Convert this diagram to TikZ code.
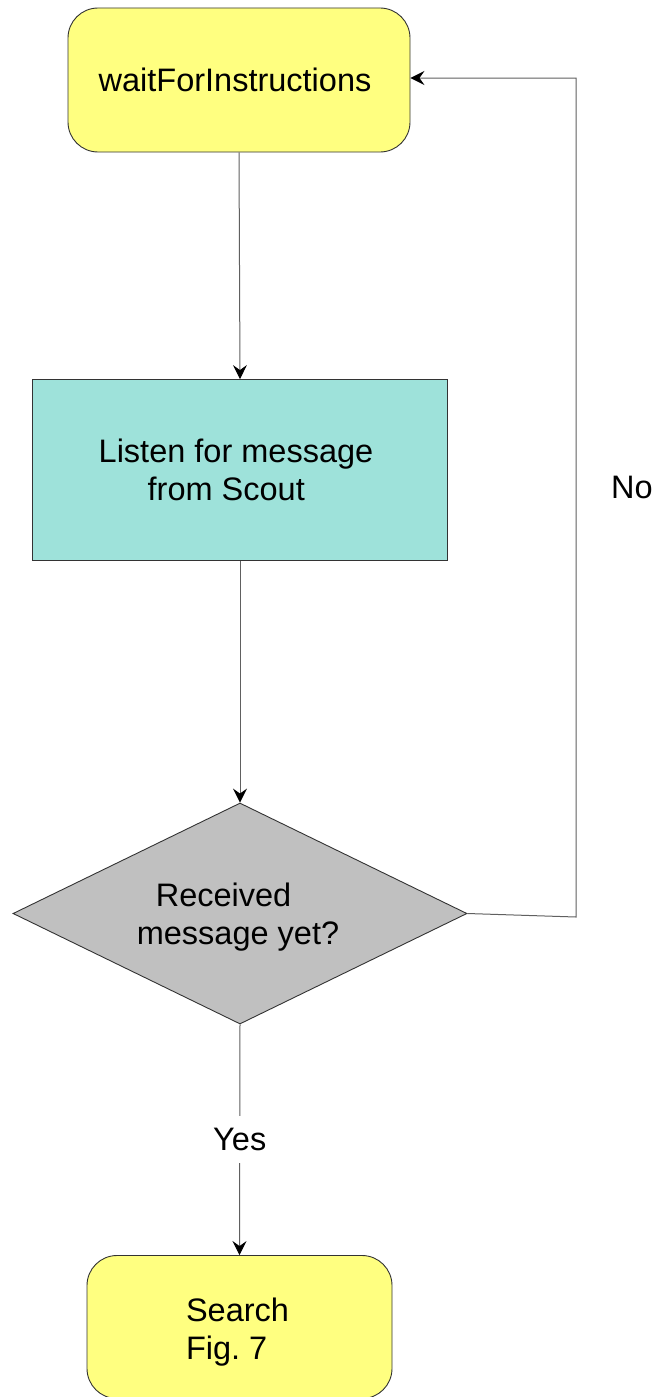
\documentclass[tikz,border=0pt]{standalone}
\usepackage{fontspec}
\setmainfont{Liberation Sans}
\usetikzlibrary{shapes.geometric,arrows.meta}

\definecolor{termfill}{HTML}{FFFF80}
\definecolor{procfill}{HTML}{9EE2DA}
\definecolor{decfill}{HTML}{C0C0C0}
\definecolor{edgeline}{HTML}{333333}
\definecolor{linkline}{HTML}{606060}

\tikzset{
  lbl/.style={font=\fontsize{32.5}{38}\selectfont},
  terminal/.style={lbl, draw=edgeline, line width=0.9pt, fill=termfill,
    rounded corners=30pt, inner sep=0pt},
  process/.style={lbl, draw=edgeline, line width=0.9pt, fill=procfill,
    inner sep=0pt},
  decision/.style={lbl, diamond, aspect=2.05, draw=edgeline, line width=0.9pt,
    fill=decfill, inner sep=0pt},
  link/.style={draw=linkline, line width=1pt},
  flow/.style={link, -{Stealth[length=14pt,width=14pt,inset=5pt,color=black]}},
  boxtext/.style={lbl, align=left},
}

\begin{document}
\begin{tikzpicture}[x=1pt,y=-1pt]
  \useasboundingbox (0,0) rectangle (657,1397);

  % states and steps
  \node[terminal, minimum width=342pt, minimum height=144pt,
    label={[boxtext, xshift=-4pt]center:waitForInstructions}] (wait) at (239,80) {};
  \node[process, minimum width=415pt, minimum height=181pt,
    label={[boxtext, xshift=-4pt]center:{Listen for message\\\hspace*{49pt}from Scout}}]
    (listen) at (240,470) {};
  \node[decision, minimum width=454pt, minimum height=221pt,
    label={[boxtext, xshift=-2pt, yshift=-4pt]center:{\hspace*{19pt}Received\\message yet?}}]
    (check) at (240,913.5) {};
  \node[terminal, minimum width=305pt, minimum height=143pt,
    label={[boxtext, xshift=-2pt, yshift=-5pt]center:{Search\\Fig.\ 7}}]
    (search) at (239.5,1327) {};

  % main flow
  \draw[flow] (wait.south) -- (listen.north);
  \draw[flow] (listen.south) -- (check.north);
  \draw[flow] (check.south) -- node[lbl, fill=white, inner xsep=2pt, inner ysep=12pt]
    (yes) {Yes} (search.north);

  % loop back when nothing has arrived
  \coordinate (loopA) at (576,917);
  \coordinate (loopB) at (576,78);
  \draw[flow] (check.east) -- (loopA) -- (loopB) -- (loopB -| wait.east);
  \node[lbl] (no) at (632,487) {No};
\end{tikzpicture}
\end{document}
